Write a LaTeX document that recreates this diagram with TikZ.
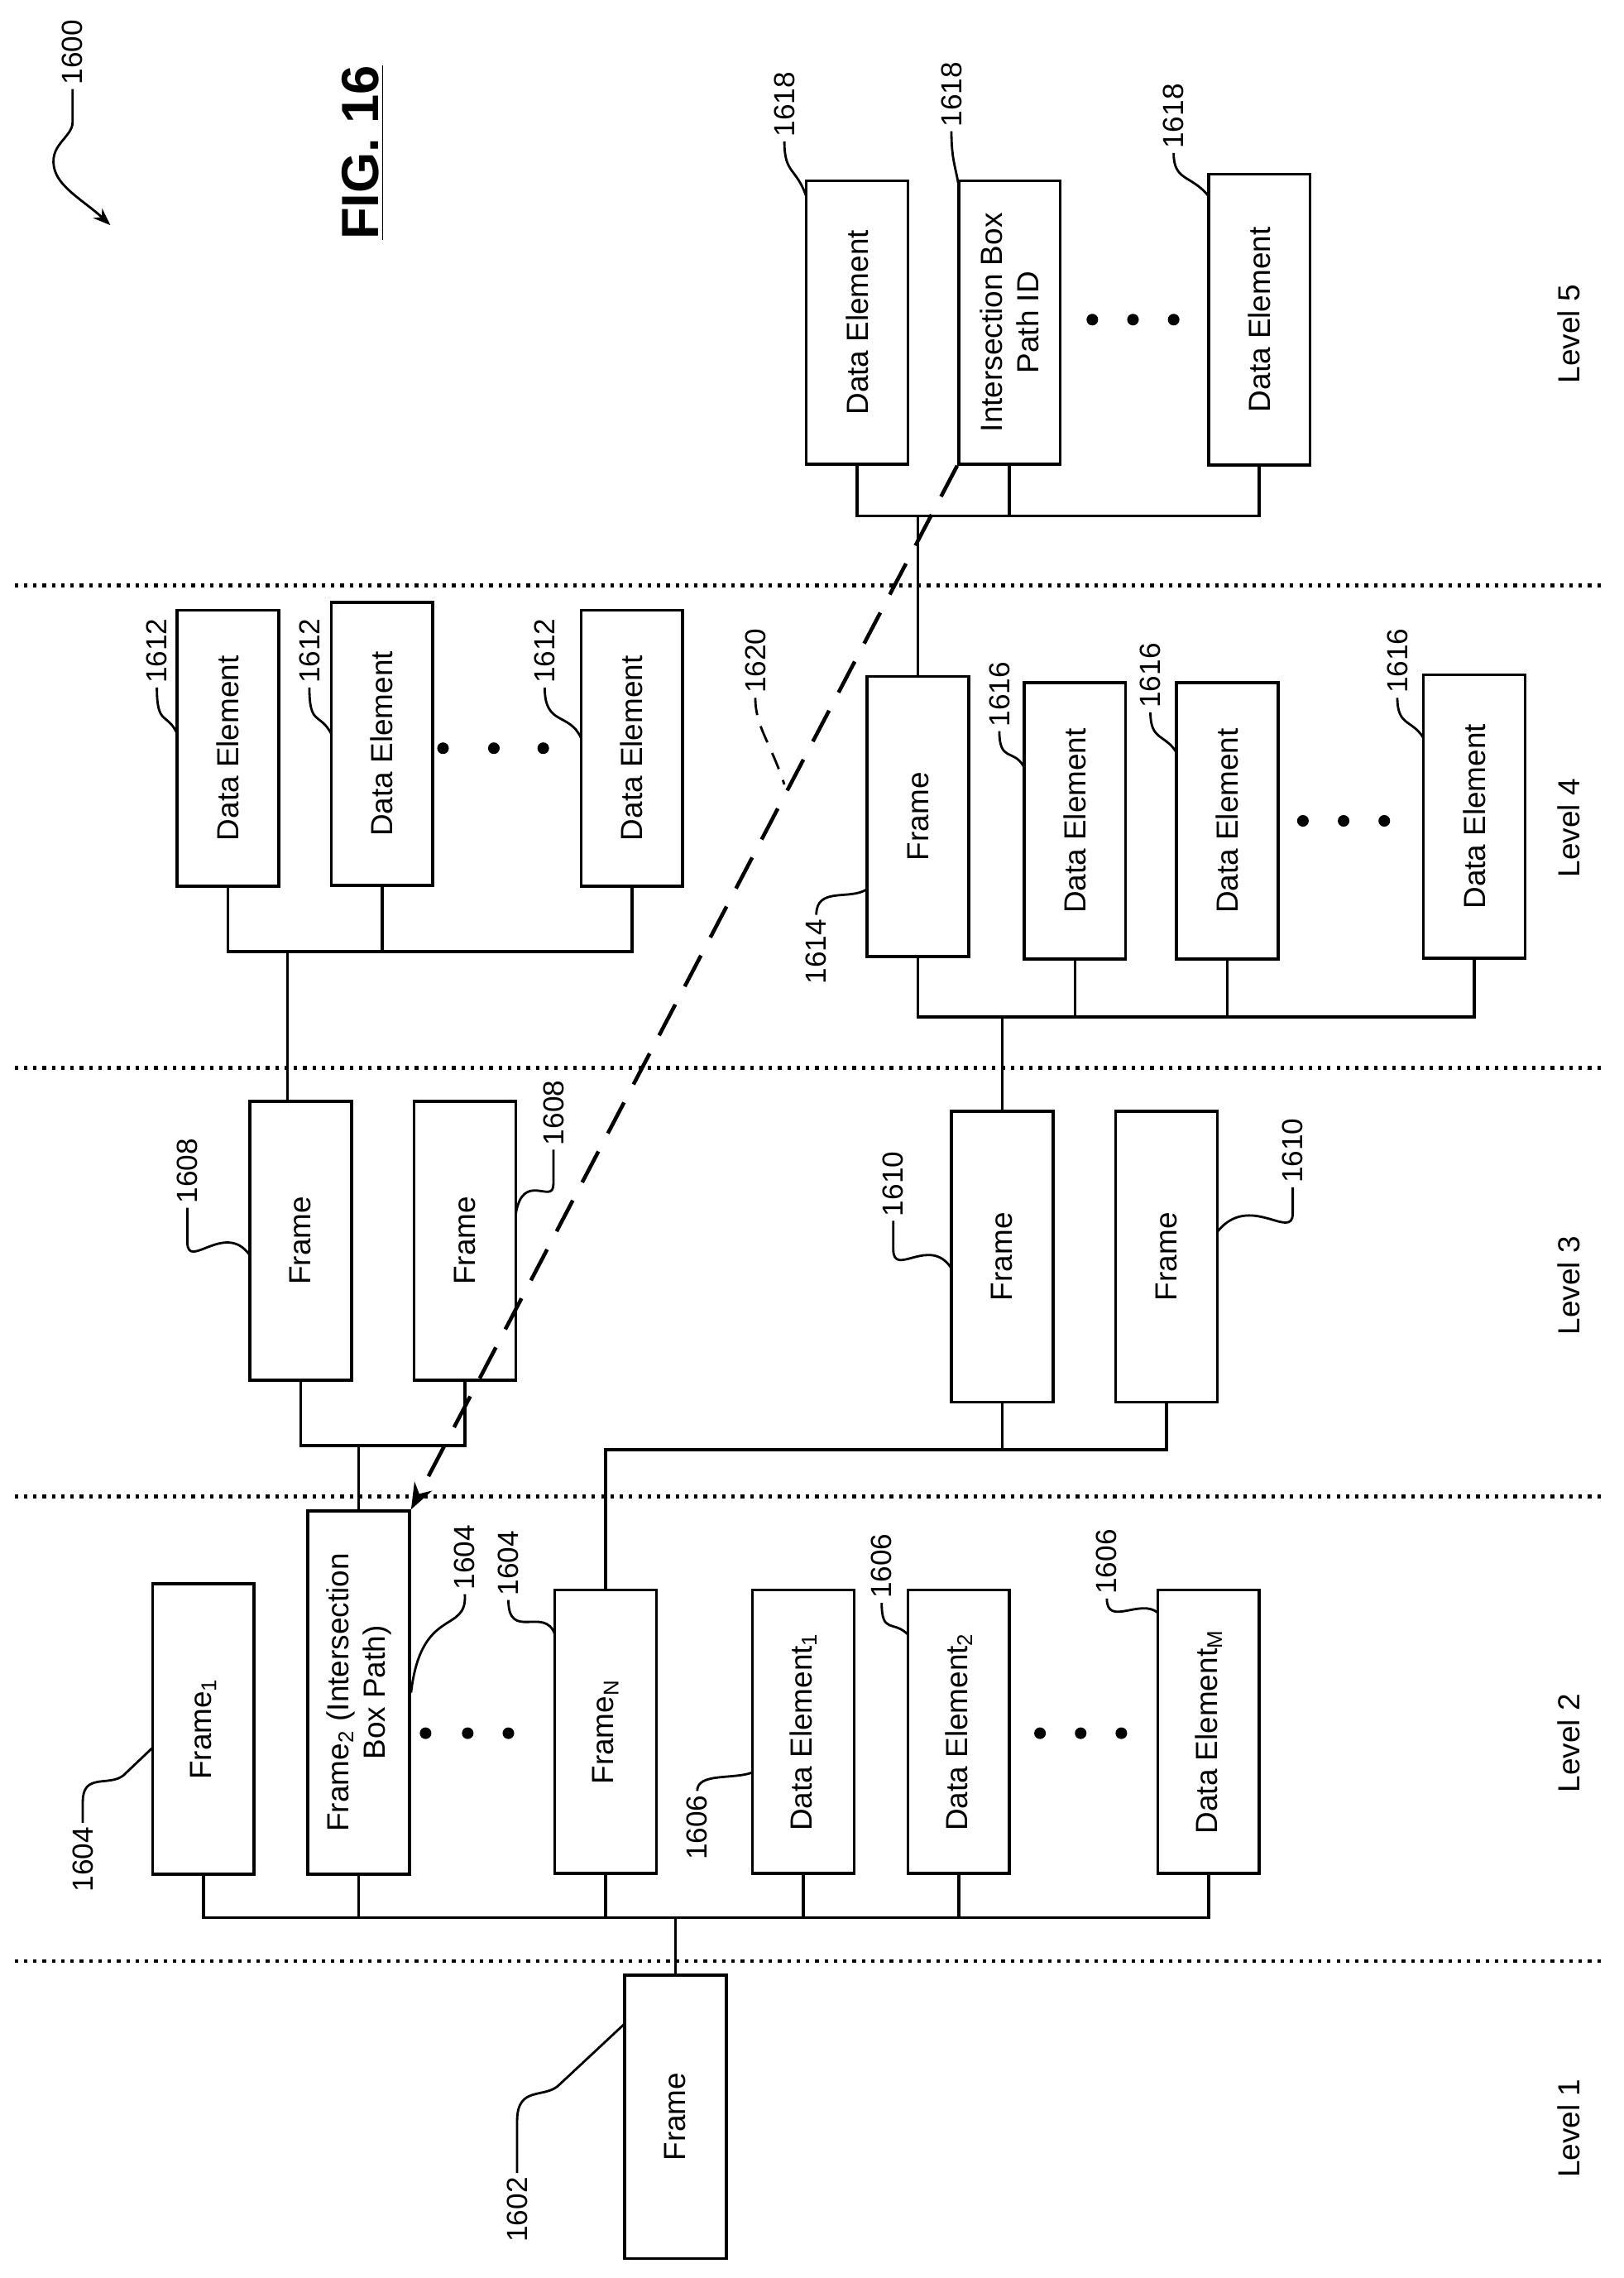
\documentclass[tikz,border=0pt]{standalone}
\usepackage{fontspec}
\setmainfont{Liberation Sans}
\usetikzlibrary{arrows.meta}
\newcommand\px{0.01755cm}
\tikzset{
  box/.style={draw, line width=1pt, rotate=90, minimum height=70*\px, align=center,
    font=\fontsize{10.5}{12.5}\selectfont, inner sep=2pt},
  num/.style={rotate=90, font=\fontsize{10}{12}\selectfont, inner sep=1pt},
  lead/.style={line width=0.8pt},
  sep/.style={line width=1.2pt, dotted},
  dot/.style={circle, fill, inner sep=0pt, minimum size=8*\px}
}
\begin{document}
\begin{tikzpicture}[x=0.01755cm, y=-0.01755cm, line width=1pt]
\useasboundingbox (0,0) rectangle (1118,1568);

% level separators
\foreach \yy in {403,735,1030,1350}
  \draw[sep] (10,\yy) -- (1105,\yy);
\foreach \yy/\lv in {1465/1,1200/2,885/3,570/4,230/5}
  \node[num, font=\fontsize{10.5}{12}\selectfont] at (1080,\yy) {Level \lv};

\node[rotate=90, font=\bfseries\fontsize{18}{20}\selectfont] (fig) at (250,105) {\underline{FIG. 16}};
\node[num] (n1600) at (50,36) {1600};
\draw[lead, -{Stealth[length=6pt]}] (n1600.west) -- (50,84) .. controls (50,95) and (32,100) .. (38,118) .. controls (42,130) and (60,140) .. (76,155);

% level 1
\node[box, minimum width=195*\px] (f1) at (465,1457) {Frame};

% level 2
\node[box, minimum width=200*\px] (fr1) at (140,1190) {Frame\textsubscript{1}};
\node[box, minimum width=250*\px] (fr2) at (247,1165) {Frame\textsubscript{2} (Intersection\\Box Path)};
\node[box, minimum width=195*\px] (frn) at (417,1192) {Frame\textsubscript{N}};
\node[box, minimum width=195*\px] (de1) at (553,1192) {Data Element\textsubscript{1}};
\node[box, minimum width=195*\px] (de2) at (660,1192) {Data Element\textsubscript{2}};
\node[box, minimum width=195*\px] (dem) at (832,1192) {Data Element\textsubscript{M}};
\coordinate (bus2) at (465,1320);
\draw (f1.east) -- (bus2);
\draw (fr1.west) -- (fr1.west |- bus2) -- (dem.west |- bus2) -- (dem.west);
\foreach \n in {fr2,frn,de1,de2}
  \draw (\n.west) -- (\n.west |- bus2);
\foreach \xx in {293,322,350} \node[dot] at (\xx,1193) {};
\foreach \xx in {716,744,772} \node[dot] at (\xx,1193) {};

% level 3
\node[box, minimum width=192*\px] (f3a) at (207,854) {Frame};
\node[box, minimum width=192*\px] (f3b) at (320,854) {Frame};
\node[box, minimum width=200*\px] (f3c) at (690,865) {Frame};
\node[box, minimum width=200*\px] (f3d) at (803,865) {Frame};
\coordinate (bus3a) at (247,995);
\coordinate (bus3b) at (417,998);
\draw (fr2.east) -- (bus3a);
\draw (f3a.west) -- (f3a.west |- bus3a) -- (f3b.west |- bus3a) -- (f3b.west);
\draw (frn.east) -- (bus3b) -- (f3d.west |- bus3b) -- (f3d.west);
\draw (f3c.west) -- (f3c.west |- bus3b);

% level 4
\node[box, minimum width=190*\px] (g1) at (157,515) {Data Element};
\node[box, minimum width=195*\px] (g2) at (263,512) {Data Element};
\node[box, minimum width=190*\px] (g3) at (435,515) {Data Element};
\coordinate (bus4a) at (198,655);
\draw (f3a.east -| bus4a) -- (bus4a);
\draw (g1.west) -- (g1.west |- bus4a) -- (g3.west |- bus4a) -- (g3.west);
\draw (g2.west) -- (g2.west |- bus4a);
\foreach \xx in {305,340,374} \node[dot] at (\xx,515) {};

\node[box, minimum width=193*\px] (f4) at (632,562) {Frame};
\node[box, minimum width=190*\px] (h1) at (740,565) {Data Element};
\node[box, minimum width=190*\px] (h2) at (845,565) {Data Element};
\node[box, minimum width=195*\px] (h3) at (1015,562) {Data Element};
\coordinate (bus4b) at (690,700);
\draw (f3c.east) -- (bus4b);
\draw (f4.west) -- (f4.west |- bus4b) -- (h3.west |- bus4b) -- (h3.west);
\foreach \n in {h1,h2} \draw (\n.west) -- (\n.west |- bus4b);
\foreach \xx in {897,925,953} \node[dot] at (\xx,565) {};

% level 5
\node[box, minimum width=195*\px] (k1) at (590,222) {Data Element};
\node[box, minimum width=195*\px] (ib) at (695,222) {Intersection Box\\Path ID};
\node[box, minimum width=200*\px] (k3) at (867,220) {Data Element};
\coordinate (bus5) at (632,355);
\draw (f4.east) -- (bus5);
\draw (k1.west) -- (k1.west |- bus5) -- (k3.west |- bus5) -- (k3.west);
\draw (ib.west) -- (ib.west |- bus5);
\foreach \xx in {752,780,808} \node[dot] at (\xx,220) {};

% intersection path
\draw[line width=1.3pt, dash pattern=on 12pt off 7pt, -{Stealth[length=9pt]}] (ib.north west) -- (fr2.south east);

% reference numerals
\node[num] (n1602) at (356,1521) {1602};
\draw[lead] (n1602.east) -- (356,1460) .. controls (356,1435) and (375,1445) .. (385,1435) -- (430,1393);
\node[num] (n1604a) at (57,1280) {1604};
\draw[lead] (n1604a.east) -- (57,1240) .. controls (57,1220) and (75,1230) .. (85,1222) -- (105,1203);
\node[num] (n1604b) at (320,1072) {1604};
\draw[lead] (n1604b.west) .. controls (322,1125) and (290,1105) .. (fr2.south);
\node[num] (n1604c) at (350,1076) {1604};
\draw[lead] (n1604c.west) .. controls (350,1130) and (375,1105) .. (382,1125);
\node[num] (n1606a) at (480,1258) {1606};
\draw[lead] (n1606a.east) .. controls (480,1220) and (505,1225) .. (518,1220);
\node[num] (n1606b) at (607,1078) {1606};
\draw[lead] (n1606b.west) .. controls (607,1125) and (615,1115) .. (625,1125);
\node[num] (n1606c) at (762,1075) {1606};
\draw[lead] (n1606c.west) .. controls (762,1120) and (785,1100) .. (797,1110);
\node[num] (n1608a) at (129,806) {1608};
\draw[lead] (n1608a.west) -- (129,855) .. controls (129,875) and (155,840) .. (172,864);
\node[num] (n1608b) at (381,766) {1608};
\draw[lead] (n1608b.west) -- (381,815) .. controls (381,830) and (360,805) .. (355,836);
\node[num] (n1610a) at (615,815) {1610};
\draw[lead] (n1610a.west) -- (615,860) .. controls (615,880) and (640,850) .. (655,873);
\node[num] (n1610b) at (890,792) {1610};
\draw[lead] (n1610b.west) -- (890,835) .. controls (890,855) and (860,820) .. (838,848);
\node[num] (n1612a) at (108,448) {1612};
\draw[lead] (n1612a.west) .. controls (108,500) and (115,490) .. (122,505);
\node[num] (n1612b) at (213,448) {1612};
\draw[lead] (n1612b.west) .. controls (213,500) and (220,490) .. (228,505);
\node[num] (n1612c) at (375,448) {1612};
\draw[lead] (n1612c.west) .. controls (375,500) and (392,490) .. (400,508);
\node[num] (n1614) at (562,655) {1614};
\draw[lead] (n1614.east) .. controls (562,610) and (585,620) .. (597,612);
\node[num] (n1616a) at (688,478) {1616};
\draw[lead] (n1616a.west) .. controls (688,525) and (698,515) .. (705,528);
\node[num] (n1616b) at (792,465) {1616};
\draw[lead] (n1616b.west) .. controls (792,510) and (802,505) .. (810,518);
\node[num] (n1616c) at (962,455) {1616};
\draw[lead] (n1616c.west) .. controls (962,500) and (972,495) .. (980,508);
\node[num] (n1618a) at (540,72) {1618};
\draw[lead] (n1618a.west) .. controls (540,120) and (548,115) .. (555,135);
\node[num] (n1618b) at (655,65) {1618};
\draw[lead] (n1618b.west) .. controls (655,110) and (658,115) .. (660,128);
\node[num] (n1618c) at (808,80) {1618};
\draw[lead] (n1618c.west) .. controls (808,125) and (820,120) .. (832,135);
\node[num] (n1620) at (520,455) {1620};
\draw[lead, dash pattern=on 6pt off 4pt] (n1620.west) .. controls (520,500) and (530,510) .. (540,540);
\end{tikzpicture}
\end{document}
